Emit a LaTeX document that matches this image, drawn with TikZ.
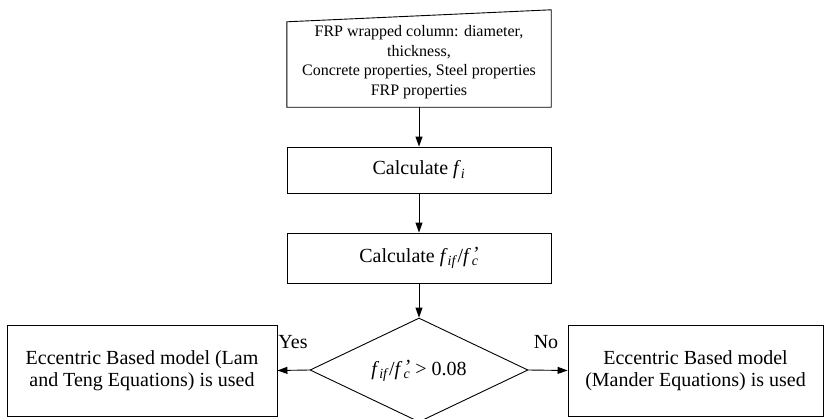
\documentclass[tikz,border=0pt]{standalone}
\usepackage{fontspec}
\setmainfont{Liberation Serif}
\usetikzlibrary{arrows.meta,shapes.geometric,calc}
\newcommand{\fsub}[1]{\textit{f}\textsubscript{\textit{#1}}}
\newcommand{\fpc}{\textit{f}\kern1pt\rlap{\raisebox{0.12em}{\textit{’}}}\textsubscript{\textit{c}}}
\tikzset{
  box/.style={draw, line width=0.9pt, rectangle, inner sep=0pt, align=center, font=\fontsize{20}{22.5}\selectfont},
  conn/.style={line width=0.9pt, -{Triangle[length=10pt,width=7pt]}},
  lbl/.style={font=\fontsize{20}{22.5}\selectfont}
}
\begin{document}
\begin{tikzpicture}[x=1pt,y=-1pt]
\useasboundingbox (0,0) rectangle (827,418);
\clip (0,0) rectangle (827,418);
\node[rectangle, minimum width=264pt, minimum height=97pt, inner sep=0pt] (top) at (419,58.5) {};
\draw[line width=0.9pt] ($(top.north west)+(0,12)$) -- (top.north east) -- (top.south east) -- (top.south west) -- cycle;
\node[align=center, font=\fontsize{16}{19.5}\selectfont] (toptext) at (419,62) {FRP wrapped column: diameter,\\ thickness,\\ Concrete properties, Steel properties\\ FRP properties};
\node[box, minimum width=264pt, minimum height=46pt] (c1) at (419,170) {Calculate \fsub{i}};
\node[box, minimum width=264pt, minimum height=50pt] (c2) at (419,258) {Calculate \fsub{if}/\fpc};
\node[draw, line width=0.9pt, diamond, minimum width=218pt, minimum height=104pt, inner sep=0pt] (dec) at (419,370) {};
\node[font=\fontsize{20}{22.5}\selectfont] (dectext) at (419,371) {\fsub{if}/\fpc{} > 0.08};
\node[box, minimum width=270pt, minimum height=91pt] (left) at (142,370.5) {Eccentric Based model (Lam\\ and Teng Equations) is used};
\node[box, minimum width=255pt, minimum height=91pt] (right) at (695.5,370.5) {Eccentric Based model\\ (Mander Equations) is used};
\draw[conn] (top.south) -- (c1.north);
\draw[conn] (c1.south) -- (c2.north);
\draw[conn] (c2.south) -- (dec.north);
\draw[conn] (dec.west) -- (left.east);
\draw[conn] (dec.east) -- (right.west);
\node[lbl] (yes) at (293,342) {Yes};
\node[lbl] (no) at (546,342) {No};
\end{tikzpicture}
\end{document}
